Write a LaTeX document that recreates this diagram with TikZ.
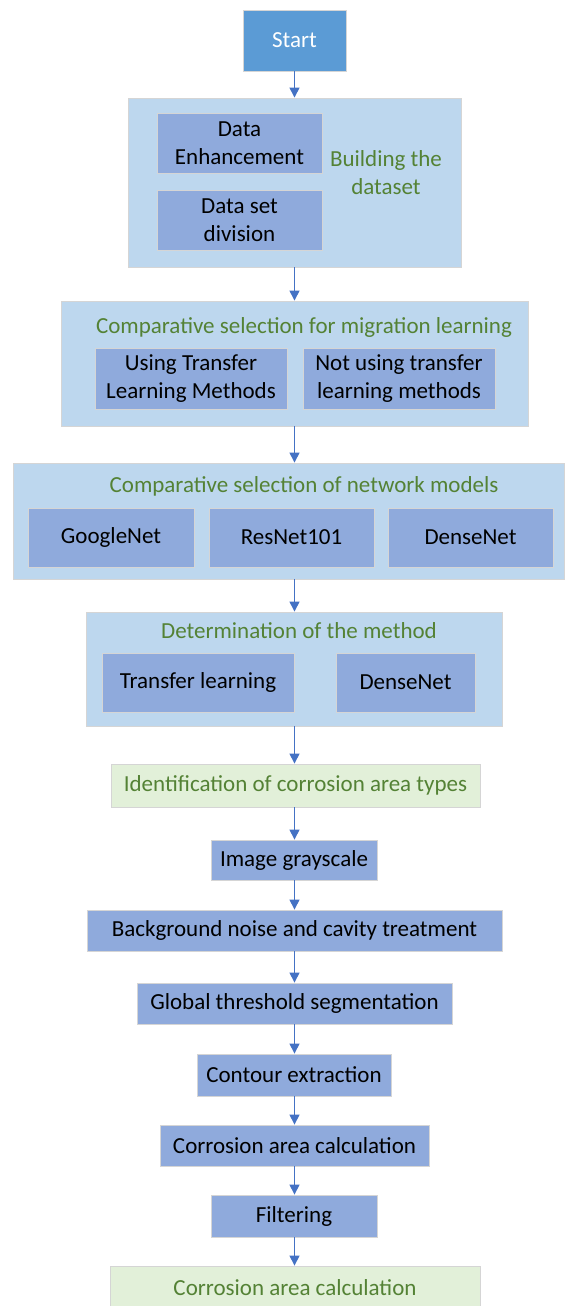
\documentclass[tikz,border=0pt]{standalone}
\usepackage{fontspec}
\setmainfont{Carlito}
\usetikzlibrary{arrows.meta}
\definecolor{startblue}{HTML}{5B9BD5}
\definecolor{innerblue}{HTML}{8FAADC}
\definecolor{contblue}{HTML}{BDD7EE}
\definecolor{greentxt}{HTML}{548235}
\definecolor{lightgreen}{HTML}{E2F0D9}
\definecolor{edgegray}{HTML}{D5D5D5}
\definecolor{arrowblue}{HTML}{4472C4}
\tikzset{
  base/.style={draw=edgegray, line width=0.9pt, inner sep=0pt, align=center,
    font=\fontsize{23}{28}\selectfont},
  startbox/.style={base, fill=startblue, text=white},
  cont/.style={base, fill=contblue},
  inner/.style={base, fill=innerblue, text=black},
  greenbox/.style={base, fill=lightgreen, text=greentxt},
  title/.style={inner sep=0pt, align=center, text=greentxt, font=\fontsize{23}{28}\selectfont},
  flow/.style={draw=arrowblue, line width=1.4pt, -{Triangle[width=10pt,length=10pt]}}
}
\begin{document}
\begin{tikzpicture}[x=1pt,y=-1pt]
\useasboundingbox (0,0) rectangle (565,1306);
\node[startbox, minimum width=103pt, minimum height=61pt] (start) at (294.5,40.5) {Start};
% box 1
\node[cont, minimum width=333pt, minimum height=169pt] (b1) at (294.5,182.5) {};
\node[inner, minimum width=165pt, minimum height=60pt] (de) at (239.5,143) {Data\\Enhancement};
\node[inner, minimum width=165pt, minimum height=60pt] (ds) at (239.5,220) {Data set\\division};
\node[title] (t1) at (386,173) {Building the\\dataset};
% box 2
\node[cont, minimum width=467pt, minimum height=125pt] (b2) at (294.5,363.5) {};
\node[title] (t2) at (304,327) {Comparative selection for migration learning};
\node[inner, minimum width=192pt, minimum height=61pt] (ut) at (191,378.5) {Using Transfer\\Learning Methods};
\node[inner, minimum width=192pt, minimum height=61pt] (nt) at (399,378.5) {Not using transfer\\learning methods};
% box 3
\node[cont, minimum width=551pt, minimum height=116pt] (b3) at (288.5,521) {};
\node[title] (t3) at (304,486) {Comparative selection of network models};
\node[inner, minimum width=166pt, minimum height=59pt] (gn) at (111,537.5) {GoogleNet};
\node[inner, minimum width=165pt, minimum height=59pt] (rn) at (291.5,537.5) {ResNet101};
\node[inner, minimum width=165pt, minimum height=59pt] (dn) at (470.5,537.5) {DenseNet};
% box 4
\node[cont, minimum width=416pt, minimum height=114pt] (b4) at (294,669) {};
\node[title] (t4) at (299,631) {Determination of the method};
\node[inner, minimum width=192pt, minimum height=59pt] (tl) at (198,682.5) {Transfer learning};
\node[inner, minimum width=139pt, minimum height=59pt] (dn2) at (405.5,682.5) {DenseNet};
% sequence
\node[greenbox, minimum width=369pt, minimum height=43pt] (id) at (295.5,785.5) {Identification of corrosion area types};
\node[inner, minimum width=166pt, minimum height=40pt] (gs) at (294,860) {Image grayscale};
\node[inner, minimum width=415pt, minimum height=41pt] (bg) at (294.5,930.5) {Background noise and cavity treatment};
\node[inner, minimum width=315pt, minimum height=41pt] (gt) at (294.5,1003.5) {Global threshold segmentation};
\node[inner, minimum width=194pt, minimum height=42pt] (ce) at (294,1075) {Contour extraction};
\node[inner, minimum width=269pt, minimum height=41pt] (ca) at (294.5,1145.5) {Corrosion area calculation};
\node[inner, minimum width=166pt, minimum height=42pt] (fi) at (294,1216) {Filtering};
\node[greenbox, minimum width=370pt, minimum height=44pt] (fin) at (295,1288) {Corrosion area calculation};
% arrows
\draw[flow] (start.south) -- (start.south |- b1.north);
\draw[flow] (b1.south) -- (b1.south |- b2.north);
\draw[flow] (b2.south) -- (b2.south |- b3.north);
\draw[flow] (b2.south |- b3.south) -- (b2.south |- b4.north);
\draw[flow] (b2.south |- b4.south) -- (b2.south |- id.north);
\draw[flow] (b2.south |- id.south) -- (b2.south |- gs.north);
\draw[flow] (b2.south |- gs.south) -- (b2.south |- bg.north);
\draw[flow] (b2.south |- bg.south) -- (b2.south |- gt.north);
\draw[flow] (b2.south |- gt.south) -- (b2.south |- ce.north);
\draw[flow] (b2.south |- ce.south) -- (b2.south |- ca.north);
\draw[flow] (b2.south |- ca.south) -- (b2.south |- fi.north);
\draw[flow] (b2.south |- fi.south) -- (b2.south |- fin.north);
\end{tikzpicture}
\end{document}
